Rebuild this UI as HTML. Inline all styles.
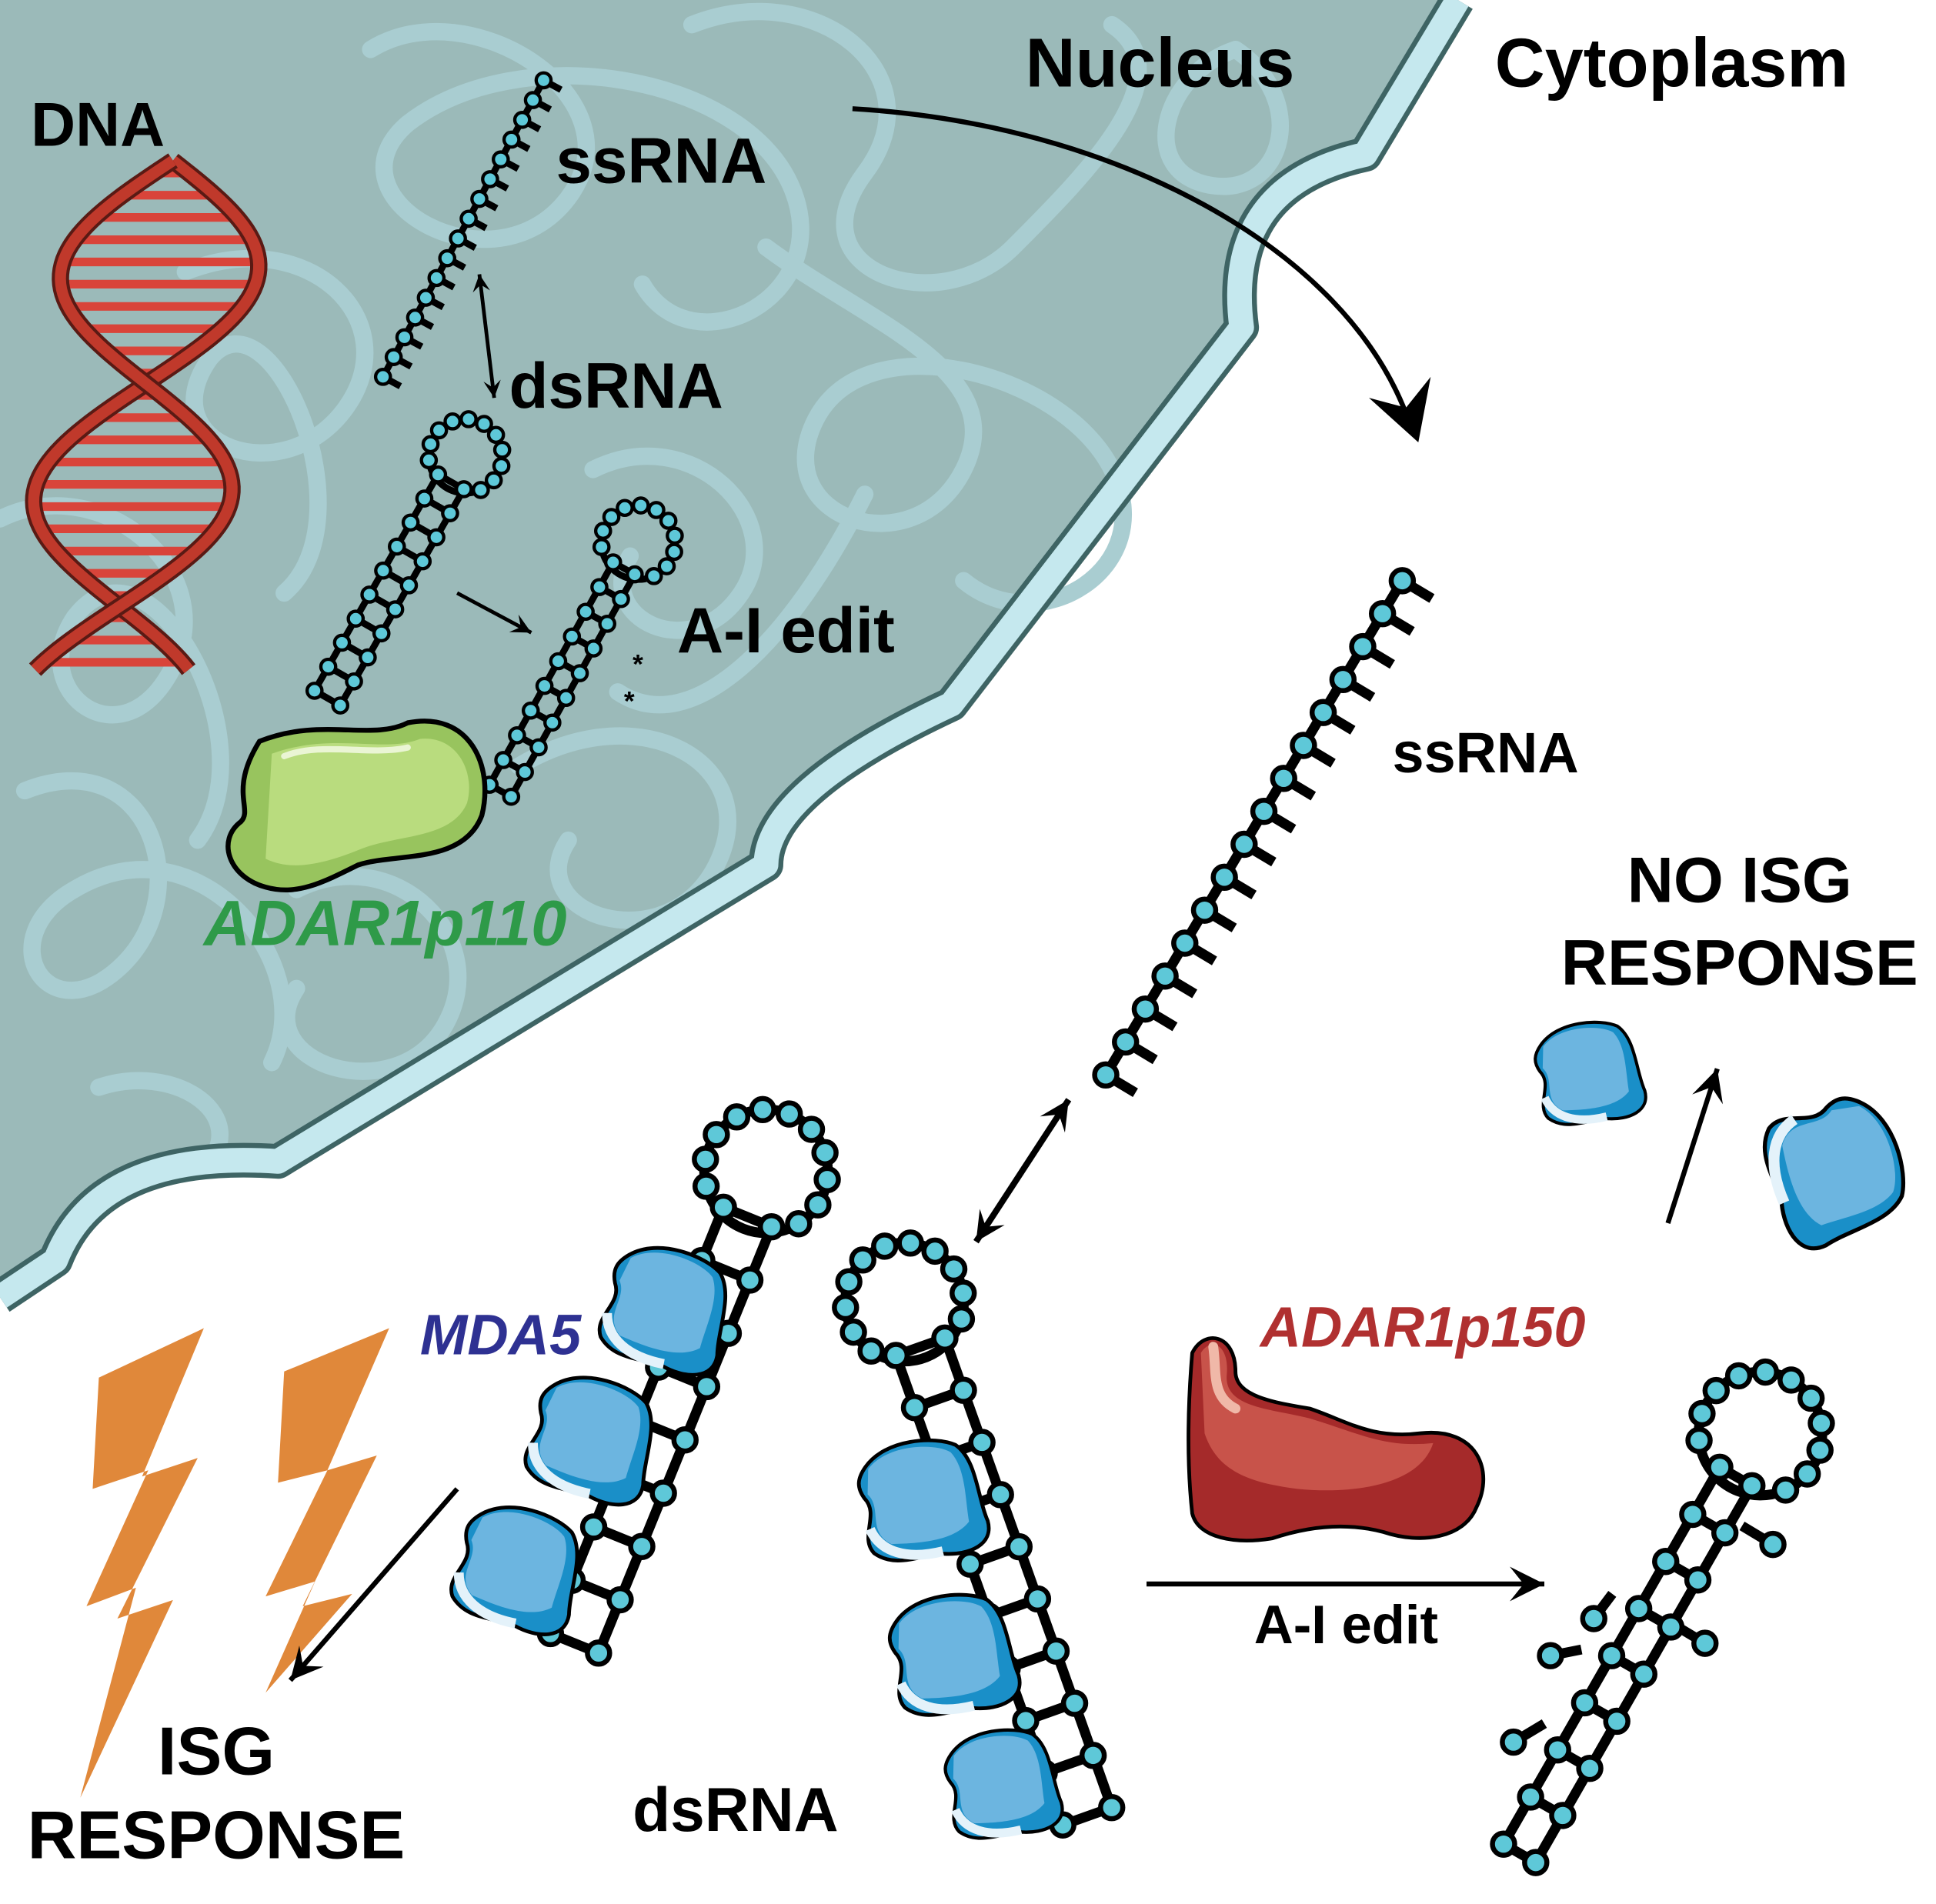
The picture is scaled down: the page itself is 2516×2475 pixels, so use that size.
<!DOCTYPE html>
<html><head><meta charset="utf-8"><style>
html,body{margin:0;padding:0;background:#fff}
svg{display:block}
text{font-family:"Liberation Sans",sans-serif;font-weight:bold}
</style></head><body>
<svg id="s" width="2516" height="2475" viewBox="0 0 1567 1541" preserveAspectRatio="none" xmlns="http://www.w3.org/2000/svg">
<rect width="1567" height="1541" fill="#fff"/>
<path d="M0,0 L1180,0 L1105,125 Q990,150 1005,265 L770,570 Q620,640 620,700 L225,940 Q80,930 45,1020 L0,1050 Z" fill="#9bbab9"/>
<g id="chrom" fill="none" stroke="#a9cdd1" stroke-width="14" stroke-linecap="round">
<path d="M300,40 C380,-10 520,80 460,160 C400,240 260,160 330,100 C420,30 600,60 640,150 C680,240 560,300 520,230"/>
<path d="M560,20 C660,-20 760,60 700,140 C640,220 760,260 820,200 C880,140 960,60 900,20"/>
<path d="M620,200 C700,260 820,300 780,380 C740,460 620,420 660,340 C700,260 860,300 900,380 C940,460 840,520 780,470"/>
<path d="M150,220 C250,180 330,260 280,330 C230,400 120,360 170,290 C220,230 300,420 230,480"/>
<path d="M0,420 C80,380 180,460 140,540 C100,620 20,560 60,500 C120,420 220,600 160,680"/>
<path d="M20,640 C120,600 160,720 100,780 C40,840 -10,760 60,720 C160,660 260,780 220,860"/>
<path d="M420,620 C520,560 620,620 580,700 C540,780 420,740 460,680"/>
<path d="M240,720 C320,680 400,760 360,830 C320,900 200,860 240,800"/>
<path d="M480,380 C560,340 640,420 600,480 C560,540 480,500 510,450"/>
<path d="M700,400 C640,520 560,600 500,560"/>
<path d="M1000,40 C1060,80 1040,160 980,150 C920,140 940,60 1000,40"/>
<path d="M80,880 C140,860 200,900 170,940"/>
</g>
<path d="M1180,0 L1105,125 Q990,150 1005,265 L770,570 Q620,640 620,700 L225,940 Q80,930 45,1020 L0,1050" fill="none" stroke="#3e6464" stroke-width="28" stroke-linejoin="round"/>
<path d="M1180,0 L1105,125 Q990,150 1005,265 L770,570 Q620,640 620,700 L225,940 Q80,930 45,1020 L0,1050" fill="none" stroke="#c5e8ee" stroke-width="20" stroke-linejoin="round"/>
<g id="g"></g>
<text x="830" y="70" font-size="56">Nucleus</text>
<text x="1210" y="70" font-size="56">Cytoplasm</text>
<text x="25" y="118" font-size="50">DNA</text>
<text x="450" y="148" font-size="52">ssRNA</text>
<text x="412" y="330" font-size="52">dsRNA</text>
<text x="548" y="528" font-size="52">A-I edit</text>
<text x="165" y="765" font-size="52" font-style="italic" fill="#2e9a48">ADAR1p110</text>
<text x="1127" y="625" font-size="46">ssRNA</text>
<text x="1408" y="730" font-size="52" text-anchor="middle">NO ISG</text>
<text x="1408" y="797" font-size="52" text-anchor="middle">RESPONSE</text>
<text x="1020" y="1090" font-size="46" font-style="italic" fill="#b03030">ADAR1p150</text>
<text x="340" y="1096" font-size="46" font-style="italic" fill="#2e3192">MDA5</text>
<text x="1015" y="1330" font-size="44">A-I edit</text>
<text x="175" y="1436" font-size="55" text-anchor="middle">ISG</text>
<text x="175" y="1504" font-size="55" text-anchor="middle">RESPONSE</text>
<text x="512" y="1482" font-size="50">dsRNA</text>
<text x="512" y="545" font-size="22">*</text>
<text x="505" y="575" font-size="22">*</text>
</svg>
<script>
var NS="http://www.w3.org/2000/svg",G=document.getElementById('g');
function el(t,a,p){var e=document.createElementNS(NS,t);for(var k in a)e.setAttribute(k,a[k]);(p||G).appendChild(e);return e;}
var CY="#5ec8d8";
(function(){var s1="",s2="";for(var y=130;y<=545;y+=4){var ph=(y-130)/415*Math.PI*2.3;var cx=140-(y-130)*0.12;var x1=cx+80*Math.sin(ph),x2=cx-80*Math.sin(ph);s1+=(s1?"L":"M")+x1+","+y;s2+=(s2?"L":"M")+x2+","+y;}
for(var y=140;y<=540;y+=18){var ph=(y-130)/415*Math.PI*2.3;var cx=140-(y-130)*0.12;var x1=cx+80*Math.sin(ph),x2=cx-80*Math.sin(ph);el('line',{x1:x1,y1:y,x2:x2,y2:y,stroke:"#d9443a","stroke-width":7});}
el('path',{d:s1,fill:"none",stroke:"#5a1a14","stroke-width":14});el('path',{d:s1,fill:"none",stroke:"#c0392b","stroke-width":9});
el('path',{d:s2,fill:"none",stroke:"#5a1a14","stroke-width":14});el('path',{d:s2,fill:"none",stroke:"#c0392b","stroke-width":9});})();
function bead(x,y,r){el('circle',{cx:x,cy:y,r:r,fill:CY,stroke:"#000","stroke-width":r*0.45});}
function ss(x1,y1,x2,y2,n,r,tk){el('line',{x1:x1,y1:y1,x2:x2,y2:y2,stroke:"#000","stroke-width":r*0.9});var dx=x2-x1,dy=y2-y1,L=Math.hypot(dx,dy),px=dy/L,py=-dx/L;
for(var i=0;i<n;i++){var t=i/(n-1),x=x1+dx*t,y=y1+dy*t;el('line',{x1:x,y1:y,x2:x+px*tk,y2:y+py*tk,stroke:"#000","stroke-width":r*0.9});}
for(var i=0;i<n;i++){var t=i/(n-1);bead(x1+dx*t,y1+dy*t,r);}}
function hp(bx,by,tx,ty,w,n,lr,nl,r){var dx=tx-bx,dy=ty-by,L=Math.hypot(dx,dy),ux=dx/L,uy=dy/L,px=-uy,py=ux;
var a=[bx+px*w/2,by+py*w/2],b=[tx+px*w/2,ty+py*w/2],c=[bx-px*w/2,by-py*w/2],d=[tx-px*w/2,ty-py*w/2];
var cx=tx+ux*lr*0.8,cy=ty+uy*lr*0.8;var sw=r*0.9;
el('line',{x1:a[0],y1:a[1],x2:b[0],y2:b[1],stroke:"#000","stroke-width":sw});el('line',{x1:c[0],y1:c[1],x2:d[0],y2:d[1],stroke:"#000","stroke-width":sw});
el('circle',{cx:cx,cy:cy,r:lr,fill:"none",stroke:"#000","stroke-width":sw});
for(var i=0;i<n;i++){var t=i/(n-1);el('line',{x1:a[0]+(b[0]-a[0])*t,y1:a[1]+(b[1]-a[1])*t,x2:c[0]+(d[0]-c[0])*t,y2:c[1]+(d[1]-c[1])*t,stroke:"#000","stroke-width":sw});}
for(var i=0;i<n;i++){var t=i/(n-1);bead(a[0]+(b[0]-a[0])*t,a[1]+(b[1]-a[1])*t,r);bead(c[0]+(d[0]-c[0])*t,c[1]+(d[1]-c[1])*t,r);}
var a0=Math.atan2(-uy,-ux);for(var k=1;k<nl;k++){var an=a0+0.5+k/nl*(2*Math.PI-1);bead(cx+lr*Math.cos(an),cy+lr*Math.sin(an),r);}}
function arrow(x1,y1,x2,y2,sw,h,both){el('line',{x1:x1,y1:y1,x2:x2,y2:y2,stroke:"#000","stroke-width":sw});
function head(xa,ya,xb,yb){var dx=xb-xa,dy=yb-ya,L=Math.hypot(dx,dy),ux=dx/L,uy=dy/L;el('polygon',{points:xb+","+yb+" "+(xb-ux*h-uy*h*0.5)+","+(yb-uy*h+ux*h*0.5)+" "+(xb-ux*h*0.6)+","+(yb-uy*h*0.6)+" "+(xb-ux*h+uy*h*0.5)+","+(yb-uy*h-ux*h*0.5),fill:"#000"});}
head(x1,y1,x2,y2);if(both)head(x2,y2,x1,y1);}
ss(310,305,440,65,16,6,-16);
arrow(388,222,400,322,3,14,true);
hp(265,565,365,390,24,10,30,12,6);
arrow(370,480,430,512,3,16);
hp(405,640,505,460,20,10,30,12,6);
el('path',{d:"M210,600 C260,580 300,600 330,585 C380,575 400,620 390,660 C375,700 320,690 290,700 C260,715 240,725 215,718 C185,710 175,680 195,665 C205,655 185,640 210,600 Z",fill:"#98c45e",stroke:"#000","stroke-width":4});
el('path',{d:"M220,610 C270,592 310,610 340,598 C370,595 385,625 378,650 C365,680 320,675 290,688 C260,700 235,705 215,695 Z",fill:"#b9dc7e"});
el('path',{d:"M230,612 C260,600 300,612 330,605",fill:"none",stroke:"#eaf5d4","stroke-width":5,"stroke-linecap":"round"});
el('path',{d:"M690,88 C900,100 1090,200 1140,340",fill:"none",stroke:"#000","stroke-width":4});
el('polygon',{points:"1148,358 1108,322 1138,330 1158,305",fill:"#000"});
ss(895,870,1135,470,16,9,-28);
arrow(790,1005,865,890,5,24,true);
function blob(cx,cy,s,rot){var g=el('g',{transform:"translate("+cx+","+cy+") rotate("+rot+") scale("+s+")"});
el('path',{d:"M-40,-30 C-20,-50 20,-45 35,-35 C50,-20 45,10 50,30 C52,50 30,55 10,50 C-10,48 -30,55 -45,40 C-55,25 -35,10 -45,-5 C-50,-15 -48,-22 -40,-30 Z",fill:"#1a8fc8",stroke:"#000","stroke-width":3},g);
el('path',{d:"M-38,-28 C-20,-45 18,-40 30,-30 C40,-15 35,10 35,28 C20,42 -10,38 -30,35 C-48,22 -32,5 -42,-8 Z",fill:"#6cb5e0"},g);
el('path',{d:"M-45,20 C-40,40 -20,50 10,48",fill:"none",stroke:"#e4f2fa","stroke-width":8},g);}
hp(465,1330,605,985,42,9,50,12,9);
blob(540,1055,1.0,15);blob(480,1160,1.0,15);blob(420,1265,1.0,15);
hp(880,1470,745,1090,42,10,48,12,9);
blob(745,1210,1.0,-10);blob(770,1335,1.0,-10);blob(810,1440,0.9,-10);
// side branches for edited hairpin
[[1225,1410,1250,1395],[1255,1340,1280,1335],[1290,1310,1305,1290],[1380,1330,1355,1315],[1435,1250,1410,1235]].forEach(function(p){el('line',{x1:p[0],y1:p[1],x2:p[2],y2:p[3],stroke:"#000","stroke-width":8});});
hp(1230,1500,1405,1195,30,9,50,12,9);
[[1225,1410],[1255,1340],[1380,1330],[1435,1250],[1290,1310]].forEach(function(p){bead(p[0],p[1],9);});
el('path',{d:"M80,1115 L165,1075 L115,1195 L160,1180 L95,1310 L140,1295 L65,1455 L110,1285 L70,1300 L120,1190 L75,1205 Z",fill:"#e0883a"});
el('path',{d:"M230,1110 L315,1075 L265,1190 L305,1178 L245,1300 L285,1290 L215,1370 L255,1280 L215,1292 L265,1190 L225,1200 Z",fill:"#e0883a"});
arrow(370,1205,235,1360,4,26);
el('path',{d:"M965,1095 C975,1075 1000,1080 1000,1110 C1000,1130 1030,1135 1060,1140 C1090,1150 1110,1165 1150,1160 C1195,1155 1210,1190 1195,1220 C1185,1245 1150,1250 1120,1240 C1090,1232 1060,1235 1030,1245 C1000,1250 970,1245 965,1225 C960,1180 962,1130 965,1095 Z",fill:"#a52a2a",stroke:"#000","stroke-width":3});
el('path',{d:"M972,1095 C980,1082 995,1088 993,1112 C990,1140 1030,1140 1060,1148 C1100,1160 1120,1172 1160,1168 C1150,1200 1100,1210 1050,1205 C1010,1200 985,1190 975,1160 Z",fill:"#c8534a"});
el('path',{d:"M982,1090 C985,1110 980,1130 1000,1140",fill:"none",stroke:"#f0b8a8","stroke-width":8,"stroke-linecap":"round"});
arrow(928,1282,1250,1282,4,28);
blob(1285,865,0.85,-10);blob(1490,945,1.1,70);
arrow(1350,990,1390,865,4,26);
</script>
</body></html>
